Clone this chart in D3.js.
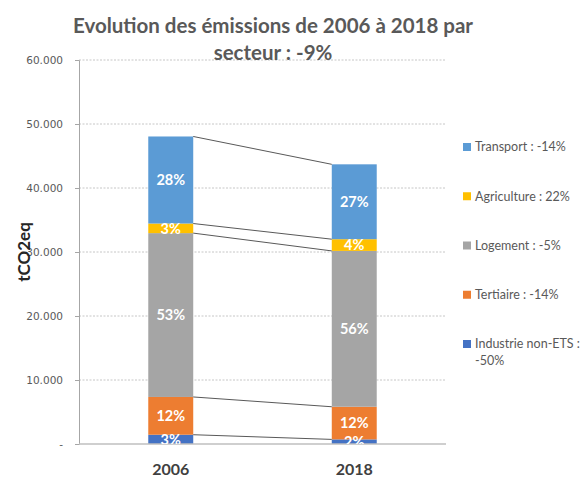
<!DOCTYPE html>
<html>
<head>
<meta charset="utf-8">
<script src="https://cdn.jsdelivr.net/npm/d3@7"></script>
<style>
  body { margin: 0; background: #fff; }
  svg { display: block; }
</style>
</head>
<body>
<div id="chart"></div>
<script>
// data (tCO2eq)
const years = ["2006", "2018"];
const sectors = ["Industrie non-ETS", "Tertiaire", "Logement", "Agriculture", "Transport"];
const values2006 = [1450, 5900, 25600, 1500, 13600];
const values2018 = [720, 5100, 24350, 1830, 11700];
const legendLabels = ["Industrie non-ETS : -50%", "Tertiaire : -14%", "Logement : -5%", "Agriculture : 22%", "Transport : -14%"];
const colors = ["#4472C4", "#ED7D31", "#A5A5A5", "#FFC000", "#5B9BD5"];
const yTicks = [0, 10000, 20000, 30000, 40000, 50000, 60000];
const titleLines = ["Evolution des émissions de 2006 à 2018 par", "secteur : -9%"];
const yTitle = "tCO2eq";

const W = 584, H = 479;
const plot = {left: 79, right: 446, top: 60, bottom: 444};

const svg = d3.select("#chart").append("svg")
  .attr("width", W).attr("height", H);

// build rows for stacking
const rows = years.map((y, i) => {
  const vals = i === 0 ? values2006 : values2018;
  const r = {year: y};
  sectors.forEach((s, j) => r[s] = vals[j]);
  r.total = d3.sum(vals);
  return r;
});
const stacked = d3.stack().keys(sectors)(rows);

const x = d3.scaleBand()
  .domain(years)
  .range([plot.left, plot.right])
  .paddingInner(0.755)
  .paddingOuter(0.755 / 2);

const y = d3.scaleLinear()
  .domain([0, 60000])
  .range([plot.bottom, plot.top]);

const color = d3.scaleOrdinal().domain(sectors).range(colors);

const fr = d3.formatLocale({decimal: ",", thousands: ".", grouping: [3], currency: ["", "€"]});
const fmt = fr.format(",.0f");

// gridlines
svg.append("g")
  .selectAll("line")
  .data(yTicks.filter(d => d > 0))
  .enter().append("line")
  .attr("x1", plot.left).attr("x2", plot.right)
  .attr("y1", d => y(d)).attr("y2", d => y(d))
  .attr("stroke", "#c6c6c6")
  .attr("stroke-dasharray", "2,1.5")
  .attr("stroke-width", 1);

// y axis
const yAxis = svg.append("g")
  .attr("transform", `translate(${plot.left},0)`)
  .call(d3.axisLeft(y).tickValues(yTicks).tickSize(4).tickPadding(12)
    .tickFormat(d => d === 0 ? "-" : fmt(d)));
yAxis.select(".domain").attr("stroke", "#a6a6a6");
yAxis.selectAll(".tick line").attr("stroke", "#a6a6a6");
yAxis.selectAll(".tick text")
  .style("font-family", "'DejaVu Sans', sans-serif")
  .style("font-size", "10.5px")
  .attr("fill", "#595959");

// clip for data labels
svg.append("clipPath").attr("id", "plotclip")
  .append("rect")
  .attr("x", plot.left).attr("y", plot.top)
  .attr("width", plot.right - plot.left).attr("height", plot.bottom - plot.top);

// bars
const layers = svg.append("g").selectAll("g")
  .data(stacked)
  .enter().append("g")
  .attr("fill", d => color(d.key));

layers.selectAll("rect")
  .data(d => d)
  .enter().append("rect")
  .attr("x", d => x(d.data.year))
  .attr("width", x.bandwidth())
  .attr("y", d => y(d[1]))
  .attr("height", d => y(d[0]) - y(d[1]));

// series lines between bar segment tops
const x0 = x(years[0]) + x.bandwidth();
const x1 = x(years[1]);
svg.append("g")
  .selectAll("line")
  .data(stacked)
  .enter().append("line")
  .attr("x1", x0).attr("x2", x1)
  .attr("y1", d => y(d[0][1]))
  .attr("y2", d => y(d[1][1]))
  .attr("stroke", "#595959")
  .attr("stroke-width", 1);

// x axis line
svg.append("line")
  .attr("x1", plot.left).attr("x2", plot.right)
  .attr("y1", y(0)).attr("y2", y(0))
  .attr("stroke", "#bfbfbf")
  .attr("stroke-width", 1.5);

// data labels (percent of total)
const labels = svg.append("g").attr("clip-path", "url(#plotclip)");
stacked.forEach(layer => {
  labels.selectAll(null)
    .data(layer)
    .enter().append("text")
    .attr("x", d => x(d.data.year) + x.bandwidth() / 2)
    .attr("y", d => (y(d[0]) + y(d[1])) / 2)
    .attr("dy", "0.36em")
    .attr("text-anchor", "middle")
    .style("font-family", "Lato, sans-serif")
    .style("font-weight", "bold")
    .style("font-size", "14.5px")
    .attr("fill", "#fff")
    .text(d => Math.round((d[1] - d[0]) / d.data.total * 100) + "%");
});

// category labels
svg.append("g")
  .selectAll("text")
  .data(years)
  .enter().append("text")
  .attr("x", d => x(d) + x.bandwidth() / 2)
  .attr("y", 475)
  .attr("text-anchor", "middle")
  .style("font-family", "Lato, sans-serif")
  .style("font-weight", "bold")
  .style("font-size", "16px")
  .attr("fill", "#404040")
  .text(d => d);

// y axis title
svg.append("text")
  .attr("transform", `translate(30,${(plot.top + plot.bottom) / 2}) rotate(-90)`)
  .attr("text-anchor", "middle")
  .style("font-family", "Lato, sans-serif")
  .style("font-weight", "bold")
  .style("font-size", "17px")
  .attr("fill", "#262626")
  .text(yTitle);

// title
svg.append("text")
  .attr("x", 273)
  .attr("text-anchor", "middle")
  .style("font-family", "Lato, sans-serif")
  .style("font-weight", "bold")
  .style("font-size", "20.5px")
  .attr("fill", "#595959")
  .selectAll("tspan")
  .data(titleLines)
  .enter().append("tspan")
  .attr("x", 273)
  .attr("y", (d, i) => 33 + i * 27)
  .text(d => d);

// legend
const ly = d3.scalePoint().domain(sectors.slice().reverse()).range([147, 344]);
const legend = svg.append("g").selectAll("g")
  .data(sectors)
  .enter().append("g")
  .attr("transform", d => `translate(463,${ly(d)})`);

legend.append("rect")
  .attr("x", 0).attr("y", -4)
  .attr("width", 8).attr("height", 8)
  .attr("fill", d => color(d));

legend.append("text")
  .attr("x", 12)
  .attr("y", 0)
  .style("font-family", "Lato, sans-serif")
  .style("font-size", "12.5px")
  .attr("fill", "#595959")
  .each(function(d, i) {
    // wrap long labels like the reference
    const t = d3.select(this);
    const words = legendLabels[i].split(" ");
    let line = [];
    let tspan = t.append("tspan").attr("x", 12).attr("dy", "0.35em");
    words.forEach(w => {
      line.push(w);
      tspan.text(line.join(" "));
      if (tspan.node().getComputedTextLength() > 108 && line.length > 1) {
        line.pop();
        tspan.text(line.join(" "));
        line = [w];
        tspan = t.append("tspan").attr("x", 12).attr("dy", "1.35em").text(w);
      }
    });
  });
</script>
</body>
</html>
